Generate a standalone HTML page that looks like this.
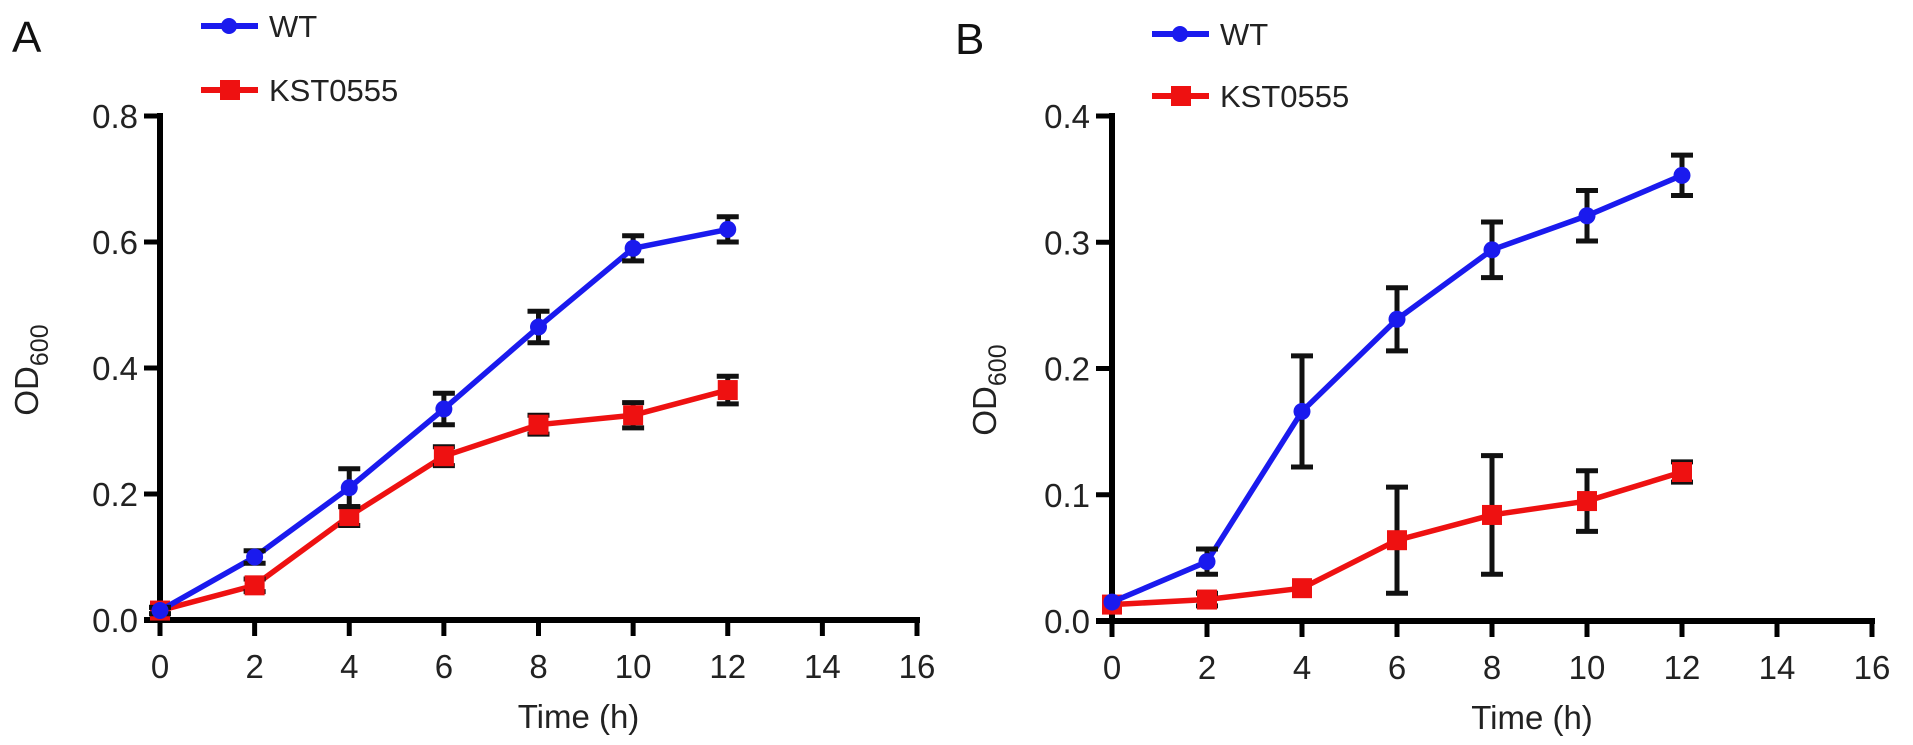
<!DOCTYPE html>
<html><head><meta charset="utf-8"><style>
html,body{margin:0;padding:0;background:#fff;}
svg{display:block;font-family:"Liberation Sans",Arial,sans-serif;}
</style></head><body>
<svg id="fig" width="1913" height="745" viewBox="0 0 1913 745"></svg>
<script>
const times = [0, 2, 4, 6, 8, 10, 12];
const xTicks = [0, 2, 4, 6, 8, 10, 12, 14, 16];
const aWT = [0.015, 0.10, 0.21, 0.335, 0.465, 0.59, 0.62];
const aWTerr = [0.005, 0.01, 0.03, 0.025, 0.025, 0.02, 0.02];
const aKST = [0.015, 0.055, 0.165, 0.26, 0.31, 0.325, 0.365];
const aKSTerr = [0.005, 0.01, 0.015, 0.015, 0.015, 0.02, 0.022];
const aYTicks = ["0.0", "0.2", "0.4", "0.6", "0.8"];
const bWT = [0.015, 0.047, 0.166, 0.239, 0.294, 0.321, 0.353];
const bWTerr = [0.002, 0.01, 0.044, 0.025, 0.022, 0.02, 0.016];
const bKST = [0.013, 0.017, 0.026, 0.064, 0.084, 0.095, 0.118];
const bKSTerr = [0, 0.005, 0.003, 0.042, 0.047, 0.024, 0.008];
const bYTicks = ["0.0", "0.1", "0.2", "0.3", "0.4"];

const NS = "http://www.w3.org/2000/svg";
const svg = document.getElementById("fig");
function mk(tag, attrs, parent) {
  const e = document.createElementNS(NS, tag);
  for (const k in attrs) e.setAttribute(k, attrs[k]);
  (parent || svg).appendChild(e);
  return e;
}

function panel(p) {
  const g = mk("g", {});
  
  
  const xs = v => p.x0 + (v / 16) * (p.x16 - p.x0);
  const ys = v => p.y0 - (v / p.ymax) * (p.y0 - p.ytop);
  const L = mk("text", {x: p.lx, y: p.ly, "font-size": 44, fill: "#111"}, g);
  L.textContent = p.id.toUpperCase();
  
  
  const ya = mk("line", {x1: p.x0, y1: p.ytop - 3, x2: p.x0, y2: p.y0 + 3, stroke: "#000", "stroke-width": 6}, g);
  
  
  const xa = mk("line", {x1: p.x0 - 16, y1: p.y0, x2: xs(16) + 3, y2: p.y0, stroke: "#000", "stroke-width": 6}, g);
  
  
  p.yTicks.forEach((t, i) => {
    const v = parseFloat(t), y = ys(v);
    mk("line", {x1: p.x0 - 16, y1: y, x2: p.x0, y2: y, stroke: "#000", "stroke-width": 5}, g);
    const tx = mk("text", {x: p.x0 - 22, y: y + 12, "font-size": 33, "text-anchor": "end", fill: "#222"}, g);
    tx.textContent = t;
    
    
  });
  xTicks.forEach(t => {
    const x = xs(t);
    mk("line", {x1: x, y1: p.y0, x2: x, y2: p.y0 + 16, stroke: "#000", "stroke-width": 5}, g);
    const tx = mk("text", {x: x, y: p.y0 + 58, "font-size": 33, "text-anchor": "middle", fill: "#222"}, g);
    tx.textContent = t;
    
    
  });
  const xt = mk("text", {x: (xs(0) + xs(16)) / 2 + 40, y: p.y0 + 108, "font-size": 33, "text-anchor": "middle", fill: "#222"}, g);
  xt.textContent = "Time (h)";
  
  
  const yt = mk("text", {x: 0, y: 0, "font-size": 33, "text-anchor": "middle", fill: "#222", transform: `translate(${p.ytx},${p.yty}) rotate(-90)`}, g);
  yt.innerHTML = 'OD<tspan dy="10" font-size="25">600</tspan>';
  
  

  function series(vals, errs, color, shape, name) {
    const sg = mk("g", {}, g);
    
    
    const pts = times.map((t, i) => xs(t) + "," + ys(vals[i])).join(" ");
    mk("polyline", {points: pts, fill: "none", stroke: color, "stroke-width": 5.5, "stroke-linejoin": "round"}, sg);
    times.forEach((t, i) => {
      const x = xs(t), y = ys(vals[i]);
      if (errs[i] > 0.003) {
        const e = mk("path", {d: `M${x},${ys(vals[i] + errs[i])}V${ys(vals[i] - errs[i])}M${x - 11},${ys(vals[i] + errs[i])}h22M${x - 11},${ys(vals[i] - errs[i])}h22`, stroke: "#111", "stroke-width": 5, fill: "none"}, sg);
        
        
      }
      let m;
      if (shape === "sq") m = mk("rect", {x: x - 10, y: y - 10, width: 20, height: 20, fill: color}, sg);
      else m = mk("circle", {cx: x, cy: y, r: 8.5, fill: color}, sg);
      
      
    });
  }
  series(p.kst, p.kstErr, "#ee1111", "sq", "kst0555");
  series(p.wt, p.wtErr, "#1a1aee", "circ", "wt");

  [[p.legWT, "WT", "#1a1aee", "circ"], [p.legK, "KST0555", "#ee1111", "sq"]].forEach(([ly, lab, c, sh]) => {
    const lg = mk("g", {}, g);
    
    
    mk("line", {x1: p.legX, y1: ly, x2: p.legX + 57, y2: ly, stroke: c, "stroke-width": 6}, lg);
    if (sh === "sq") mk("rect", {x: p.legX + 19, y: ly - 10, width: 20, height: 20, fill: c}, lg);
    else mk("circle", {cx: p.legX + 28, cy: ly, r: 8, fill: c}, lg);
    const t = mk("text", {x: p.legX + 68, y: ly + 11, "font-size": 31, fill: "#222"}, lg);
    t.textContent = lab;
  });
}

panel({id: "a", x0: 160, x16: 917, y0: 620, ytop: 116, ymax: 0.8, yTicks: aYTicks,
  wt: aWT, wtErr: aWTerr, kst: aKST, kstErr: aKSTerr,
  lx: 12, ly: 52, ytx: 38, yty: 370, legX: 201, legWT: 26, legK: 90});
panel({id: "b", x0: 1112, x16: 1872, y0: 621, ytop: 116, ymax: 0.4, yTicks: bYTicks,
  wt: bWT, wtErr: bWTerr, kst: bKST, kstErr: bKSTerr,
  lx: 955, ly: 54, ytx: 996, yty: 390, legX: 1152, legWT: 34, legK: 96});
</script>
</body></html>
